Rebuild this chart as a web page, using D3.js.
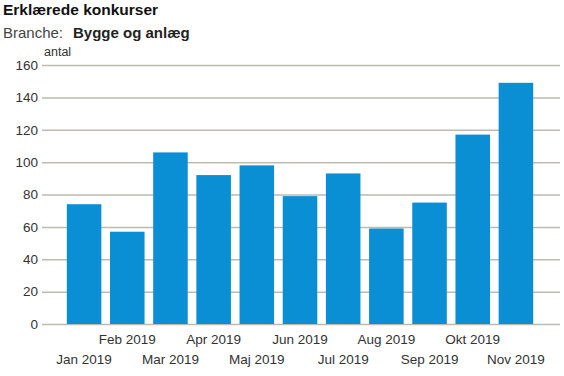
<!DOCTYPE html>
<html>
<head>
<meta charset="utf-8">
<script src="https://cdn.jsdelivr.net/npm/d3@7"></script>
<style>
  body { margin: 0; background: #fff; }
  svg text { font-family: "Liberation Sans", Arial, sans-serif; }
</style>
</head>
<body>
<div id="chart"></div>
<script>
const months = ['Jan 2019', 'Feb 2019', 'Mar 2019', 'Apr 2019', 'Maj 2019', 'Jun 2019',
                'Jul 2019', 'Aug 2019', 'Sep 2019', 'Okt 2019', 'Nov 2019'];
const values = [74, 57, 106, 92, 98, 79, 93, 59, 75, 117, 149];
const yTicks = [0, 20, 40, 60, 80, 100, 120, 140, 160];

const W = 564, H = 376;
const plot = { left: 42, right: 560, top: 65, bottom: 324 };

const svg = d3.select('#chart').append('svg')
  .attr('width', W).attr('height', H);

// Titles
svg.append('text')
  .attr('x', 3).attr('y', 15)
  .attr('font-size', 15.5).attr('font-weight', 'bold').attr('fill', '#111')
  .text('Erklærede konkurser');

svg.append('text')
  .attr('x', 3).attr('y', 38)
  .attr('font-size', 15).attr('fill', '#444')
  .text('Branche:');
svg.append('text')
  .attr('x', 73).attr('y', 38)
  .attr('font-size', 15).attr('font-weight', 'bold').attr('fill', '#222')
  .text('Bygge og anlæg');

svg.append('text')
  .attr('x', 44).attr('y', 56)
  .attr('font-size', 12.5).attr('fill', '#333')
  .text('antal');

const x = d3.scaleBand()
  .domain(months)
  .range([62.5, 537.5])
  .paddingInner(0.2)
  .paddingOuter(0.1);

const y = d3.scaleLinear()
  .domain([0, 160])
  .range([plot.bottom, plot.top]);

// Grid lines + y labels
const yAxis = svg.append('g')
  .attr('transform', `translate(${plot.left},0)`)
  .call(d3.axisLeft(y).tickValues(yTicks).tickSize(0).tickPadding(4));
yAxis.select('.domain').remove();
yAxis.selectAll('text')
  .attr('font-size', 13.5).attr('fill', '#333')
  .attr('font-family', '"Liberation Sans", Arial, sans-serif');

svg.append('g').selectAll('line')
  .data(yTicks).enter()
  .append('line')
  .attr('x1', plot.left).attr('x2', plot.right)
  .attr('y1', d => y(d) + 0.5).attr('y2', d => y(d) + 0.5)
  .attr('stroke', '#bdbbb0').attr('stroke-width', 1.5);

// Bars
svg.append('g').selectAll('rect')
  .data(values).enter()
  .append('rect')
  .attr('x', (d, i) => x(months[i]))
  .attr('y', d => y(d))
  .attr('width', x.bandwidth())
  .attr('height', d => y(0) - y(d))
  .attr('fill', '#0a8fd5');

// X labels, staggered in two rows
const xAxis = svg.append('g')
  .attr('transform', `translate(0,${plot.bottom})`)
  .call(d3.axisBottom(x).tickSize(0));
xAxis.select('.domain').remove();
xAxis.selectAll('text')
  .attr('font-size', 13.5).attr('fill', '#333')
  .attr('font-family', '"Liberation Sans", Arial, sans-serif')
  .attr('y', (d, i) => i % 2 === 1 ? 10 : 30)
  .attr('dy', '0.71em');
</script>
</body>
</html>
